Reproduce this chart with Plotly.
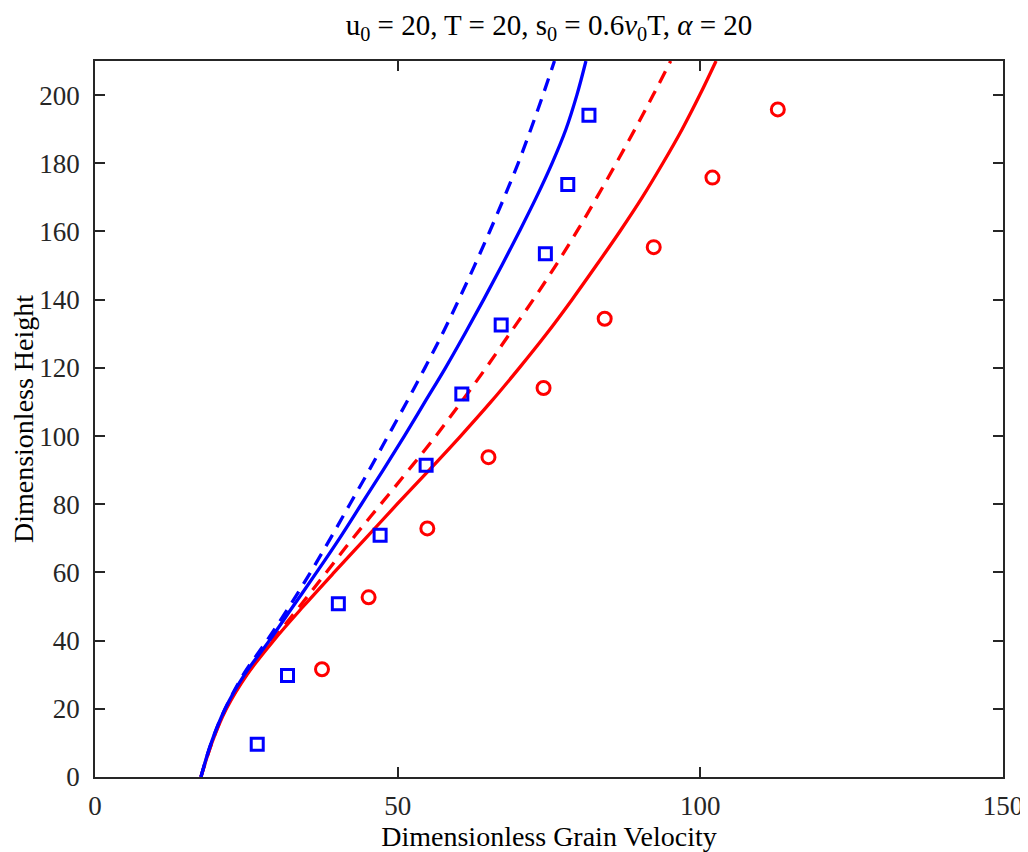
import plotly.graph_objects as go

# Curve heights (shared y grid) and velocities
curve_y = [0, 10, 20, 30, 40, 50, 60, 70, 80, 90, 100, 110, 120, 130, 140, 150, 160, 170, 180, 190, 200, 210]
red_solid_x = [17.5, 19.3, 21.7, 25.1, 29.5, 34.4, 39.5, 44.7, 49.9, 55.2, 60.4, 65.4, 70.1, 74.6, 78.8, 82.8, 86.7, 90.4, 93.8, 97.0, 99.9, 102.6]
red_dash_x = [17.5, 19.3, 21.6, 25.0, 29.3, 33.8, 38.2, 42.6, 47.2, 51.8, 56.3, 60.5, 64.6, 68.5, 72.4, 76.1, 79.6, 82.9, 86.1, 89.2, 92.2, 95.1]
blue_solid_x = [17.5, 19.2, 21.5, 24.7, 28.8, 32.7, 36.6, 40.4, 44.0, 47.6, 51.1, 54.5, 57.9, 61.1, 64.2, 67.2, 70.1, 72.9, 75.5, 77.8, 79.6, 81.1]
blue_dash_x = [17.5, 19.2, 21.5, 24.5, 28.4, 32.1, 35.6, 38.9, 42.1, 45.3, 48.4, 51.5, 54.5, 57.4, 60.1, 62.7, 65.2, 67.6, 69.9, 72.0, 74.0, 75.9]

# Marker data
blue_sq_x = [26.8, 31.8, 40.2, 47.1, 54.7, 60.6, 67.1, 74.4, 78.1, 81.6]
blue_sq_y = [9.6, 29.8, 50.8, 70.9, 91.4, 112.3, 132.6, 153.5, 173.8, 194.1]
red_ci_x = [37.5, 45.2, 54.9, 65.0, 74.1, 84.2, 92.3, 102.0, 112.8]
red_ci_y = [31.6, 52.7, 72.9, 93.8, 114.1, 134.4, 155.4, 175.8, 195.8]

x_ticks = [0, 50, 100, 150]
y_ticks = [0, 20, 40, 60, 80, 100, 120, 140, 160, 180, 200]

BLUE = "#0000ff"
RED = "#ff0000"
FONT = "Liberation Serif"
LW = 3.3

fig = go.Figure()
fig.add_trace(go.Scatter(x=red_solid_x, y=curve_y, mode="lines", line=dict(color=RED, width=LW, shape="spline")))
fig.add_trace(go.Scatter(x=red_dash_x, y=curve_y, mode="lines", line=dict(color=RED, width=LW, dash="13px,9px", shape="spline")))
fig.add_trace(go.Scatter(x=blue_solid_x, y=curve_y, mode="lines", line=dict(color=BLUE, width=LW, shape="spline")))
fig.add_trace(go.Scatter(x=blue_dash_x, y=curve_y, mode="lines", line=dict(color=BLUE, width=LW, dash="13px,9px", shape="spline")))
fig.add_trace(go.Scatter(x=blue_sq_x, y=blue_sq_y, mode="markers",
                         marker=dict(symbol="square-open", size=12, color=BLUE, line=dict(width=3, color=BLUE))))
fig.add_trace(go.Scatter(x=red_ci_x, y=red_ci_y, mode="markers",
                         marker=dict(symbol="circle-open", size=13, color=RED, line=dict(width=3, color=RED))))

axis_common = dict(
    showgrid=False, zeroline=False, showline=True, linecolor="#262626", linewidth=1.5,
    mirror="ticks", ticks="inside", ticklen=10, tickwidth=1.5, tickcolor="#262626",
    tickfont=dict(family=FONT, size=27, color="#262626"), ticklabeloverflow="allow",
)

fig.update_layout(
    width=1020, height=844,
    margin=dict(l=87, r=25, t=53, b=75, autoexpand=False),
    paper_bgcolor="white", plot_bgcolor="white",
    showlegend=False,
    font=dict(family=FONT, color="#262626"),
    title=dict(text="u<sub>0</sub> = 20, T = 20, s<sub>0</sub> = 0.6<i>ν</i><sub>0</sub>T, <i>α</i> = 20",
               x=0.5304, xanchor="center", xref="container", y=1 - 17 / 844, yanchor="middle", yref="container",
               font=dict(family=FONT, size=29, color="#000000")),
    xaxis=dict(range=[0, 150], tickvals=x_ticks, ticklabelstandoff=4,
               title=dict(text="Dimensionless Grain Velocity", font=dict(family=FONT, size=28, color="#000000"), standoff=2),
               **axis_common),
    yaxis=dict(range=[0, 210], tickvals=y_ticks, ticklabelstandoff=8,
               title=dict(text="Dimensionless Height", font=dict(family=FONT, size=28, color="#000000"), standoff=6),
               **axis_common),
)

fig.write_html("out.html")
